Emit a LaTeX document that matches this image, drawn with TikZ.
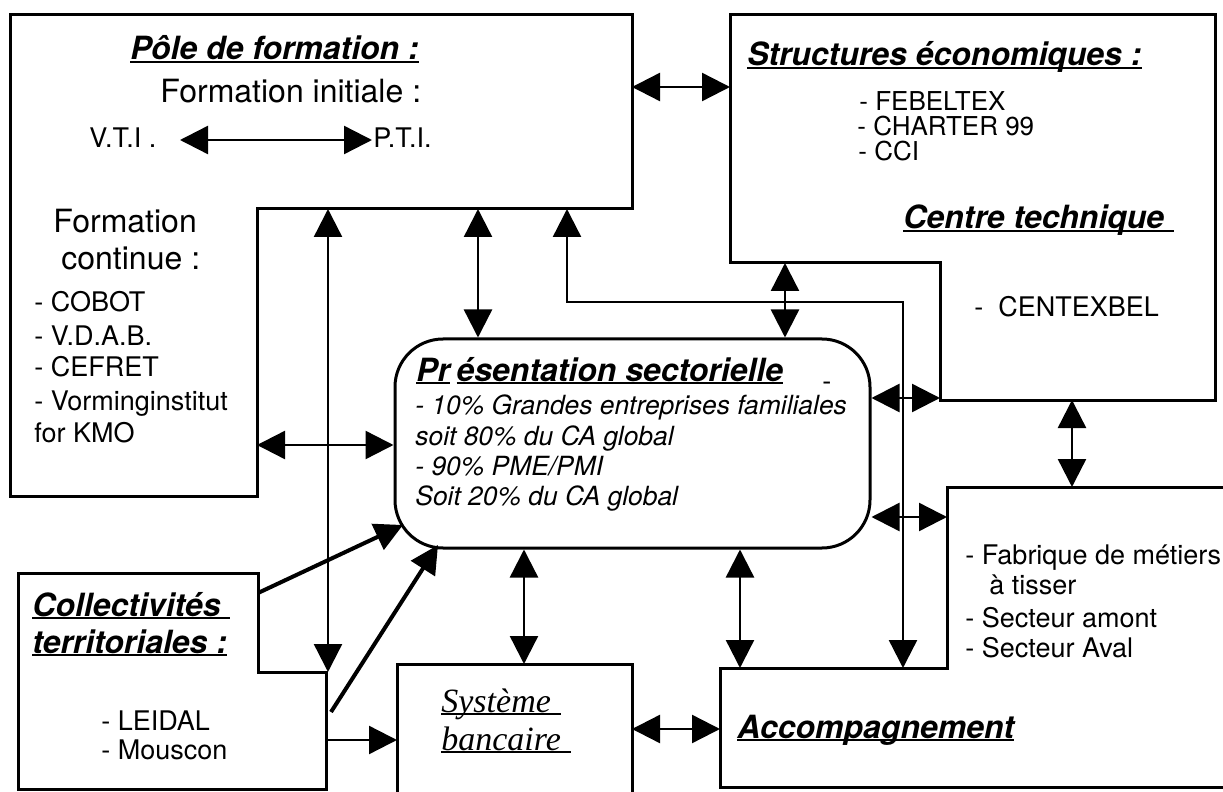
\documentclass[tikz,border=0pt]{standalone}
\usepackage{fontspec}
\setmainfont{TeX Gyre Heros}
\newfontfamily\bankfont{Liberation Serif}
\usetikzlibrary{arrows.meta}

% underline drawn at a fixed depth, through the descenders
\newsavebox\ulbox
\newcommand\undl[1]{\sbox\ulbox{#1}\rlap{\rule[-0.1em]{\wd\ulbox}{0.075em}}\usebox\ulbox}

\tikzset{
  box/.style={line width=1.5pt, line join=miter},
  conn/.style={line width=1.2pt},
  heavy/.style={line width=2pt},
  dbl/.style={{Triangle[length=14pt,width=14pt]}-{Triangle[length=14pt,width=14pt]}},
  fwd/.style={-{Triangle[length=14pt,width=14pt]}},
  txt/.style={anchor=base west, inner sep=0pt, font=\fontsize{13.5}{16}\selectfont},
  small/.style={anchor=base west, inner sep=0pt, font=\fontsize{13}{15}\selectfont},
  big/.style={anchor=base west, inner sep=0pt, font=\fontsize{16}{19}\selectfont},
  head/.style={anchor=base west, inner sep=0pt, font=\fontsize{16}{19}\selectfont\bfseries\itshape},
  lines/.style={anchor=base west, inner sep=0pt, font=\fontsize{13.2}{16}\selectfont\itshape},
  bank/.style={anchor=base west, inner sep=0pt, font=\fontsize{17}{20}\selectfont\bankfont\itshape},
}

\begin{document}
\begin{tikzpicture}[x=0.5pt,y=-0.5pt]
\useasboundingbox (0,0) rectangle (1223,792);
\clip (0,0) rectangle (1223,792);

% ---- boxes ----
% Pole de formation (L-shaped)
\draw[box] (10,15) -- (632,15) -- (632,209) -- (257,209) -- (257,496) -- (10,496) -- cycle;
% Structures economiques / Centre technique
\draw[box] (730,15) -- (1215,15) -- (1215,400) -- (940,400) -- (940,263) -- (730,263) -- cycle;
% Fabrique + Accompagnement
\draw[box] (947,487) -- (1260,487) -- (1260,787) -- (720,787) -- (720,668) -- (947,668) -- cycle;
% Collectivites territoriales
\draw[box] (18,573) -- (258,573) -- (258,672) -- (326,672) -- (326,789) -- (18,789) -- cycle;
% Systeme bancaire
\draw[box] (397,830) -- (397,664) -- (632,664) -- (632,830);
% Presentation sectorielle
\node[box, draw, rounded corners=24pt, minimum width=237.5pt, minimum height=104.5pt,
      inner sep=0pt] (pres) at (632.5,443.5) {};

% ---- texts ----
\node[head] (tpole) at (130,60) {\undl{Pôle de formation :}};
\node[big] (tinit) at (160,103) {Formation initiale :};
\node[txt] (vti) at (89,148) {V.T.I .};
\node[txt] (pti) at (373,148) {P.T.I.};
\node[big] (tcont1) at (53,233) {Formation};
\node[big] (tcont2) at (61,270) {continue :};
\node[txt] (l1) at (34,312) {- COBOT};
\node[txt] (l2) at (34,345) {- V.D.A.B.};
\node[txt] (l3) at (34,377) {- CEFRET};
\node[txt] (l4) at (34,410) {- Vorminginstitut};
\node[txt] (l5) at (34,442) {for KMO};

\node[head] (tstruct) at (747,66) {\undl{Structures économiques :}};
\node[small] (s1) at (859,111) {- FEBELTEX};
\node[small] (s2) at (857,136) {- CHARTER 99};
\node[small] (s3) at (858,161) {- CCI};
\node[head] (tcentre) at (903,229) {\undl{Centre technique\hspace{0.3em}}};
\node[txt] (s4) at (974,317) {- \ CENTEXBEL};

\node[head] (tpres) at (416,381) {\undl{Pr}\hspace{0.2em}\undl{ésentation sectorielle}};
\node[txt] (dash) at (822,391) {-};
\node[lines] (p1) at (415,415) {- 10\% Grandes entreprises familiales};
\node[lines] (p2) at (415,445) {soit 80\% du CA global};
\node[lines] (p3) at (415,475) {- 90\% PME/PMI};
\node[lines] (p4) at (415,505) {Soit 20\% du CA global};

\node[txt] (f1) at (965,564) {- Fabrique de métiers};
\node[txt] (f2) at (989,594) {à tisser};
\node[txt] (f3) at (965,627) {- Secteur amont};
\node[txt] (f4) at (965,657) {- Secteur Aval};
\node[head] (tacc) at (737,738) {\undl{Accompagnement}};

\node[head] (tcol1) at (32,616) {\undl{Collectivités\hspace{0.3em}}};
\node[head] (tcol2) at (32,653) {\undl{territoriales :}};
\node[txt] (c1) at (101,730) {- LEIDAL};
\node[txt] (c2) at (101,759) {- Mouscon};

\node[bank] (tbank1) at (441,712) {\undl{Système\hspace{0.3em}}};
\node[bank] (tbank2) at (441,750) {\undl{bancaire\hspace{0.3em}}};

% ---- connector end points on the box outlines ----
\coordinate (poleE) at (632,87);    \coordinate (structW) at (730,87);
\coordinate (vtiA) at (180,140);    \coordinate (ptiA) at (372,140);
\coordinate (poleS1) at (328,209);  \coordinate (colN) at (328,672);
\coordinate (poleS2) at (478,209);
\coordinate (poleS3) at (567,209);  \coordinate (accN2) at (903,668);
\coordinate (elbowY) at (0,302);
\coordinate (structS) at (785,263);
\coordinate (centreSW) at (940,398);
\coordinate (fabW) at (947,517);
\coordinate (centreS) at (1072,400); \coordinate (fabN) at (1072,487);
\coordinate (poleE2) at (257,445);
\coordinate (colE1) at (258,593);   \coordinate (presSW1) at (403,525);
\coordinate (colE2) at (331,712);   \coordinate (presSW2) at (438,545);
\coordinate (colE3) at (326,740);   \coordinate (bankW) at (397,740);
\coordinate (bankN) at (524,664);
\coordinate (bankE) at (632,729);   \coordinate (accW) at (720,729);
\coordinate (accN1) at (740,668);

% ---- connectors ----
\draw[conn,dbl] (poleE) -- (structW);
\draw[conn,dbl] (vtiA) -- (ptiA);
\draw[conn,dbl] (poleS1) -- (colN);
\draw[conn,dbl] (poleS2) -- (poleS2 |- pres.north);
\draw[conn,dbl] (poleS3) -- (poleS3 |- elbowY) -- (accN2 |- elbowY) -- (accN2);
\draw[conn,dbl] (structS) -- (structS |- pres.north);
\draw[conn,dbl] (centreSW -| pres.east) -- (centreSW);
\draw[conn,dbl] (fabW -| pres.east) -- (fabW);
\draw[conn,dbl] (centreS) -- (fabN);
\draw[conn,dbl] (poleE2) -- (poleE2 -| pres.west);
\draw[heavy,fwd] (colE1) -- (presSW1);
\draw[heavy,fwd] (colE2) -- (presSW2);
\draw[conn,fwd] (colE3) -- (bankW);
\draw[conn,dbl] (bankN |- pres.south) -- (bankN);
\draw[conn,dbl] (bankE) -- (accW);
\draw[conn,dbl] (accN1 |- pres.south) -- (accN1);
\end{tikzpicture}
\end{document}
